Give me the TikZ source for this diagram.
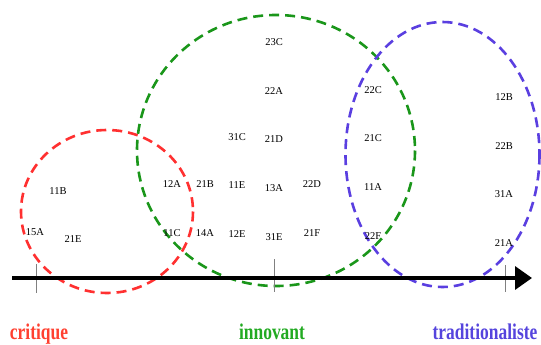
\documentclass[tikz,border=0pt]{standalone}
\usepackage{fontspec}
\setmainfont{Liberation Serif}
\usetikzlibrary{arrows.meta}
\definecolor{cred}{HTML}{FF3030}
\definecolor{cgreen}{HTML}{1A961A}
\definecolor{cblue}{HTML}{5A3FE0}
\definecolor{tred}{HTML}{FF4030}
\definecolor{tgreen}{HTML}{22AA22}
\definecolor{tblue}{HTML}{5544DD}
\newcommand{\tallcat}[1]{\scalebox{0.97}[1.25]{#1}}
\tikzset{
  lab/.style={font=\fontsize{10.5}{11}\selectfont, inner sep=0pt},
  cat/.style={font=\fontsize{18}{20}\selectfont\bfseries, inner sep=0pt, anchor=base},
  group/.style={dash pattern=on 10pt off 6pt, line width=2.6pt},
  tick/.style={draw=gray, line width=0.8pt},
}
\begin{document}
\begin{tikzpicture}[x=1pt,y=-1pt]
\useasboundingbox (0,0) rectangle (541,345);
% groups
\draw[group, cred] (107,211.5) ellipse [x radius=86, y radius=81.5];
\draw[group, cgreen] (276,150.5) ellipse [x radius=139, y radius=135.5];
\draw[group, cblue] (442.5,154.5) ellipse [x radius=97, y radius=132.5];
% ticks
\coordinate (t1a) at (36,264); \coordinate (t1b) at (36,293);
\coordinate (t2a) at (274,259); \coordinate (t2b) at (274,292);
\coordinate (t3a) at (505,265); \coordinate (t3b) at (505,292);
\draw[tick] (t1a) -- (t1b);
\draw[tick] (t2a) -- (t2b);
\draw[tick] (t3a) -- (t3b);
% axis
\coordinate (ax0) at (12,278);
\coordinate (ax1) at (532,278);
\draw[line width=3.5pt, -{Triangle[length=17pt,width=23pt]}] (ax0) -- (ax1);
% labels red
\node[lab] (l11B) at (58,191) {11B};
\node[lab] (l15A) at (35,232) {15A};
\node[lab] (l21E) at (73,239) {21E};
% green
\node[lab] (l23C) at (274,42) {23C};
\node[lab] (l22A) at (274,91) {22A};
\node[lab] (l31C) at (237,137) {31C};
\node[lab] (l21D) at (274,139) {21D};
\node[lab] (l12A) at (172,184) {12A};
\node[lab] (l21B) at (205,184) {21B};
\node[lab] (l11E) at (237,185) {11E};
\node[lab] (l13A) at (274,188) {13A};
\node[lab] (l22D) at (312,184) {22D};
\node[lab] (l11C) at (172,233) {11C};
\node[lab] (l14A) at (205,233) {14A};
\node[lab] (l12E) at (237,234) {12E};
\node[lab] (l31E) at (274,237) {31E};
\node[lab] (l21F) at (312,233) {21F};
% blue
\node[lab] (l22C) at (373,90) {22C};
\node[lab] (l21C) at (373,138) {21C};
\node[lab] (l11A) at (373,187) {11A};
\node[lab] (l22F) at (373,236) {22F};
\node[lab] (l12B) at (504,97) {12B};
\node[lab] (l22B) at (504,146) {22B};
\node[lab] (l31A) at (504,194) {31A};
\node[lab] (l21A) at (504,243) {21A};
% categories
\node[cat, text=tred] (ccrit) at (39,339.5) {\tallcat{critique}};
\node[cat, text=tgreen] (cinno) at (272,339.5) {\tallcat{innovant}};
\node[cat, text=tblue] (ctrad) at (485,339.5) {\tallcat{traditionaliste}};
\end{tikzpicture}
\end{document}
